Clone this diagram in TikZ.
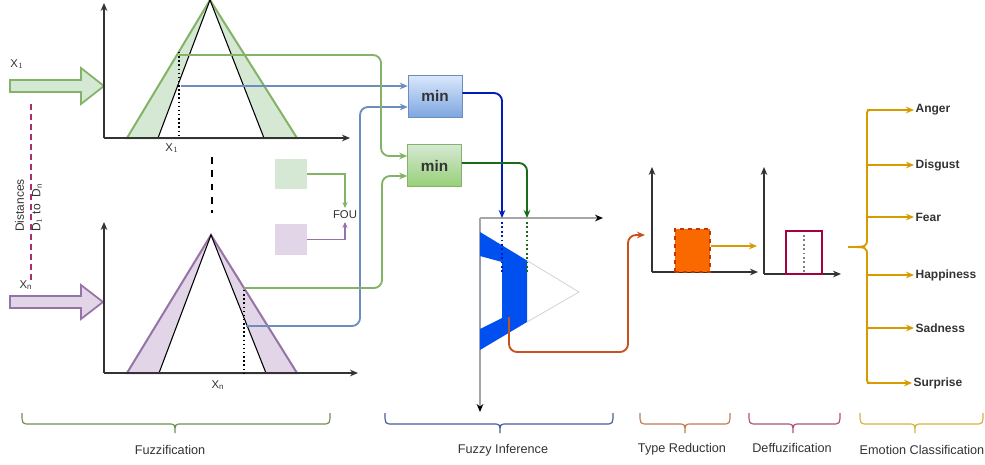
\documentclass[tikz,border=0pt]{standalone}
\usepackage{fontspec}
\setmainfont{Liberation Sans}
\usetikzlibrary{arrows.meta,calc}
\definecolor{gfill}{HTML}{D5E8D4}
\definecolor{gline}{HTML}{82B366}
\definecolor{pfill}{HTML}{E1D5E7}
\definecolor{pline}{HTML}{9673A6}
\definecolor{bline}{HTML}{6C8EBF}
\definecolor{btop}{HTML}{DAE8FC}
\definecolor{bbot}{HTML}{7EA6E0}
\definecolor{gbot}{HTML}{97D077}
\definecolor{dblue}{HTML}{001DBC}
\definecolor{dgreen}{HTML}{1B6A1B}
\definecolor{infblue}{HTML}{0050EF}
\definecolor{orline}{HTML}{C8511E}
\definecolor{orfill}{HTML}{FA6800}
\definecolor{ordark}{HTML}{C73500}
\definecolor{gold}{HTML}{D79B00}
\definecolor{maroon}{HTML}{A50040}
\definecolor{pinkd}{HTML}{A8306A}
\definecolor{txt}{HTML}{333333}
\definecolor{brG}{HTML}{6D8F4E}
\definecolor{brB}{HTML}{4A5A9A}
\definecolor{brO}{HTML}{C07A50}
\definecolor{brP}{HTML}{B0507A}
\definecolor{brY}{HTML}{D6B040}
\newcommand{\botbrace}[4]{%
  \draw[#4, line width=0.9pt] (#1,413) .. controls (#1,424) .. ({#1+8},424) -- ({#2-7},424) .. controls (#2,424) .. (#2,433) .. controls (#2,424) .. ({#2+7},424) -- ({#3-8},424) .. controls (#3,424) .. (#3,413);}
\begin{document}
\begin{tikzpicture}[x=0.75pt,y=-0.75pt,
  >={Stealth[length=6pt,width=5pt]},
  lbl/.style={font=\fontsize{9.5}{11}\selectfont, text=txt, inner sep=1pt},
  xlbl/.style={font=\fontsize{8.5}{10}\selectfont, text=txt, inner sep=1pt},
  emo/.style={font=\bfseries\fontsize{9}{11}\selectfont, text=txt, anchor=west, inner sep=1pt},
  axisline/.style={draw=black!80, line width=0.9pt, ->},
  minbox/.style={draw, minimum width=40.5pt, minimum height=31.5pt, font=\bfseries\fontsize{11.5}{13}\selectfont, text=txt, inner sep=0pt},
  wire/.style={line width=1.4pt, rounded corners=6pt, ->},
  smallwire/.style={line width=0.9pt, -{Stealth[length=4.5pt,width=4pt]}}
]
\useasboundingbox (0,0) rectangle (985,464);

% ---------- left inputs ----------
\filldraw[fill=gfill, draw=gline, line width=1.3pt] (10,80) -- (81,80) -- (81,68) -- (104,86) -- (81,104) -- (81,92) -- (10,92) -- cycle;
\filldraw[fill=pfill, draw=pline, line width=1.3pt] (10,296) -- (81,296) -- (81,285) -- (103,302) -- (81,319) -- (81,308) -- (10,308) -- cycle;
\node[xlbl] (x1in) at (17,64) {X$_1$};
\node[xlbl] (xnin) at (26,285) {X$_\mathrm{n}$};
\draw[pinkd, line width=2pt, dash pattern=on 4.5pt off 3pt] (31,104) -- (31,280);
\node[rotate=90, align=left, anchor=north west, inner sep=0pt, font=\fontsize{9}{12.4}\selectfont, text=txt] (dist) at (15,232) {Distances\\D$_1$ to \ D$_\mathrm{n}$};

% ---------- top membership chart ----------
\filldraw[fill=gfill, draw=gline, line width=1.5pt] (127,138) -- (210,0) -- (297,138) -- cycle;
\filldraw[fill=white, draw=black, line width=0.8pt] (158,138) -- (210,0) -- (264,138) -- cycle;
\draw[axisline] (104,138) -- (350,138);
\draw[axisline] (104,138) -- (104,3);
\draw[black, dotted, line width=1.1pt] (179,52) -- (179,138);
\node[xlbl] (x1lab) at (172,148) {X$_1$};
\coordinate (g1) at (179,55);
\coordinate (b1) at (181,86);

% dashes between charts
\draw[black, line width=1.8pt, dash pattern=on 5pt off 5pt] (212,157) -- (212,213);

% ---------- bottom membership chart ----------
\filldraw[fill=pfill, draw=pline, line width=1.5pt] (127,373) -- (211,235) -- (297,373) -- cycle;
\filldraw[fill=white, draw=black, line width=0.8pt] (159,373) -- (211,235) -- (266,373) -- cycle;
\draw[axisline] (104,373) -- (358,373);
\draw[axisline] (104,373) -- (104,222);
\draw[black, dotted, line width=1.1pt] (244,290) -- (244,373);
\node[xlbl] (xnlab) at (218,385) {X$_\mathrm{n}$};
\coordinate (gn) at (244,288);
\coordinate (bn) at (246,326);

% ---------- FOU legend ----------
\node[fill=gfill, minimum width=24pt, minimum height=22.5pt, inner sep=0] (fouG) at (291,174) {};
\node[fill=pfill, minimum width=24pt, minimum height=23pt, inner sep=0] (fouP) at (291,239.5) {};
\node[font=\fontsize{8.5}{10}\selectfont, text=txt, inner sep=2pt] (fou) at (345,215) {FOU};
\draw[smallwire, gline] (fouG.east) -| (fou.north);
\draw[smallwire, pline] (fouP.east) -| (fou.south);

% ---------- min boxes ----------
\node[minbox, draw=bline, top color=btop, bottom color=bbot] (min1) at (435,96) {min};
\node[minbox, draw=gline, top color=gfill, bottom color=gbot] (min2) at (434.5,165.5) {min};

\draw[wire, bline] (b1) -- (b1 -| min1.west);
\draw[wire, bline] (bn) -- (360,326) -- (360,107) -- ($(min1.west)+(0,11)$);
\draw[wire, gline] (g1) -- (381,55) -- (381,156) -- ($(min2.west)+(0,-9.5)$);
\draw[wire, gline] (gn) -- (382,288) -- (382,176) -- ($(min2.west)+(0,10.5)$);

% ---------- inference ----------
\coordinate (io) at (480,218);
\draw[gray!70, line width=0.9pt, -{Stealth[length=6pt,width=5pt,black]}] (io) -- (603,218);
\draw[gray!70, line width=0.9pt, -{Stealth[length=6pt,width=5pt,black]}] (io) -- (480,412);
\fill[infblue, even odd rule] (480,232) -- (527,260.5) -- (527,322) -- (480,350) -- cycle
  (480,256) -- (502,262) -- (502,318) -- (480,329) -- cycle;
\draw[gray!35, line width=0.6pt] (527,260.5) -- (579,292) -- (527,322);
\draw[dblue, dotted, line width=1.3pt] (502,222) -- (502,272);
\draw[dgreen, dotted, line width=1.3pt] (527,222) -- (527,272);
\coordinate (inA) at (502,218);
\coordinate (inB) at (527,218);
\draw[wire, dblue] ($(min1.east)+(0,-3)$) -- (502,93) -- (inA);
\draw[wire, dgreen] ($(min2.east)+(0,-2.5)$) -- (527,163) -- (inB);

% ---------- type reduction ----------
\coordinate (tro) at (652,272);
\draw[axisline] (tro) -- (758,272);
\draw[axisline] (tro) -- (652,167);
\node[draw=ordark, dashed, fill=orfill, line width=0.9pt, minimum width=26.25pt, minimum height=32.25pt, inner sep=0] (trbox) at (692.5,250.5) {};
\coordinate (ib) at (509,317);
\coordinate (trin) at (645,235);
\draw[wire, orline] (ib) -- (509,352) -- (628,352) -- (628,235) -- (trin);

% ---------- defuzzification ----------
\coordinate (dfo) at (764,274);
\draw[axisline] (dfo) -- (841,274);
\draw[axisline] (dfo) -- (764,167);
\node[draw=maroon, fill=white, line width=1.4pt, minimum width=27pt, minimum height=32.25pt, inner sep=0] (dfbox) at (804,252.5) {};
\draw[gray, dotted, line width=1.3pt] (804,235) -- (804,272);
\coordinate (dfin) at (757,246);
\draw[wire, gold] ($(trbox.east)+(0,-4.5)$) -- (dfin);

% ---------- emotion classification ----------
\draw[gold, line width=1.4pt] (873,110) .. controls (867,110) .. (867,116) -- (867,238) .. controls (867,247) .. (848,247) .. controls (867,247) .. (867,256) -- (867,377) .. controls (867,383) .. (873,383);
\node[emo] (anger) at (914,110) {Anger};
\node[emo] (disgust) at (914,165) {Disgust};
\node[emo] (fear) at (914,217) {Fear};
\node[emo] (happy) at (914,275) {Happiness};
\node[emo] (sad) at (914,328) {Sadness};
\node[emo] (surprise) at (912,383) {Surprise};
\foreach \n in {anger,disgust,fear,happy,sad,surprise}
  \draw[gold, line width=1.4pt, ->] (867,0 |- \n.west) -- (\n.west);

% ---------- bottom braces ----------
\botbrace{22}{175}{330}{brG}
\botbrace{385}{500}{613}{brB}
\botbrace{640}{685}{730}{brO}
\botbrace{749}{793}{840}{brP}
\botbrace{860}{915}{983}{brY}
\node[lbl] (l1) at (170,450) {Fuzzification};
\node[lbl] (l2) at (503,450) {Fuzzy Inference};
\node[lbl] (l3) at (682,449) {Type Reduction};
\node[lbl] (l4) at (792,448) {Deffuzification};
\node[lbl] (l5) at (922,450) {Emotion Classification};
\end{tikzpicture}
\end{document}
